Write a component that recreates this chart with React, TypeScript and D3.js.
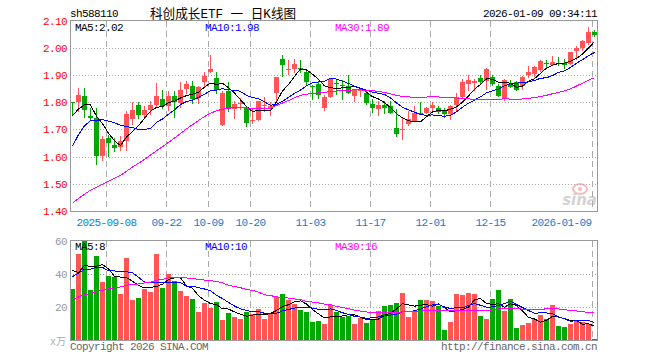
import React from 'react';
import * as d3 from 'd3';

// 日K数据（价格单位：元，成交量单位：万手）
const openPx = [1.801, 1.801, 1.821, 1.748, 1.740, 1.601, 1.667, 1.641, 1.634, 1.657, 1.737, 1.791, 1.752, 1.770, 1.791, 1.813, 1.785, 1.821, 1.798, 1.850, 1.861, 1.815, 1.873, 1.910, 1.887, 1.715, 1.840, 1.773, 1.792, 1.779, 1.731, 1.733, 1.785, 1.773, 1.834, 1.960, 1.918, 1.923, 1.925, 1.909, 1.861, 1.868, 1.778, 1.820, 1.870, 1.862, 1.861, 1.822, 1.840, 1.834, 1.795, 1.776, 1.788, 1.787, 1.704, 1.698, 1.718, 1.730, 1.759, 1.759, 1.778, 1.779, 1.767, 1.755, 1.789, 1.820, 1.868, 1.871, 1.889, 1.877, 1.893, 1.861, 1.816, 1.865, 1.873, 1.861, 1.898, 1.905, 1.917, 1.945, 1.935, 1.945, 1.944, 1.941, 1.987, 1.999, 2.017, 2.057];
const highPx = [1.802, 1.852, 1.851, 1.777, 1.777, 1.676, 1.679, 1.670, 1.676, 1.767, 1.800, 1.802, 1.785, 1.804, 1.872, 1.843, 1.840, 1.840, 1.873, 1.878, 1.877, 1.860, 1.911, 1.974, 1.911, 1.840, 1.874, 1.804, 1.816, 1.785, 1.776, 1.806, 1.820, 1.802, 1.893, 1.974, 1.956, 1.960, 1.956, 1.920, 1.862, 1.873, 1.828, 1.889, 1.885, 1.880, 1.901, 1.849, 1.852, 1.840, 1.813, 1.804, 1.804, 1.804, 1.773, 1.743, 1.767, 1.785, 1.802, 1.782, 1.800, 1.785, 1.779, 1.788, 1.834, 1.885, 1.901, 1.885, 1.901, 1.926, 1.901, 1.865, 1.885, 1.883, 1.877, 1.895, 1.932, 1.932, 1.956, 1.956, 1.971, 1.966, 1.959, 1.985, 2.005, 2.027, 2.076, 2.066];
const lowPx = [1.748, 1.763, 1.740, 1.731, 1.570, 1.584, 1.599, 1.615, 1.622, 1.621, 1.715, 1.737, 1.743, 1.754, 1.779, 1.773, 1.767, 1.741, 1.779, 1.829, 1.794, 1.795, 1.855, 1.907, 1.830, 1.712, 1.765, 1.737, 1.771, 1.709, 1.718, 1.730, 1.763, 1.749, 1.800, 1.893, 1.901, 1.907, 1.907, 1.859, 1.809, 1.810, 1.767, 1.816, 1.828, 1.807, 1.830, 1.800, 1.818, 1.789, 1.759, 1.749, 1.755, 1.755, 1.673, 1.661, 1.712, 1.727, 1.754, 1.756, 1.761, 1.755, 1.743, 1.734, 1.763, 1.816, 1.840, 1.840, 1.865, 1.844, 1.861, 1.820, 1.806, 1.852, 1.840, 1.846, 1.889, 1.893, 1.910, 1.922, 1.932, 1.932, 1.922, 1.938, 1.956, 1.987, 2.011, 2.041];
const closePx = [1.799, 1.828, 1.770, 1.742, 1.601, 1.665, 1.650, 1.632, 1.656, 1.755, 1.770, 1.752, 1.770, 1.788, 1.824, 1.785, 1.821, 1.800, 1.846, 1.868, 1.812, 1.855, 1.895, 1.920, 1.843, 1.832, 1.777, 1.795, 1.796, 1.723, 1.735, 1.804, 1.791, 1.785, 1.891, 1.935, 1.921, 1.941, 1.922, 1.873, 1.855, 1.828, 1.820, 1.886, 1.867, 1.860, 1.834, 1.843, 1.849, 1.798, 1.777, 1.791, 1.777, 1.759, 1.682, 1.702, 1.737, 1.761, 1.756, 1.777, 1.788, 1.765, 1.755, 1.785, 1.820, 1.873, 1.880, 1.879, 1.874, 1.922, 1.868, 1.822, 1.880, 1.855, 1.846, 1.893, 1.910, 1.928, 1.952, 1.943, 1.946, 1.942, 1.935, 1.983, 1.998, 2.023, 2.057, 2.048];
const volume = [30.8, 51.8, 60, 30.2, 50.6, 35.2, 38.6, 38, 27.8, 49.4, 24.2, 25.4, 31.2, 29.2, 51.8, 31.4, 39.8, 35.8, 29.8, 26.6, 24.8, 17, 22.8, 19.4, 23.4, 12.4, 16.4, 14, 13, 17, 16, 18.8, 13, 16, 26.2, 27.8, 24.4, 22.2, 18.2, 17, 11, 11.6, 9.8, 21.4, 17, 14, 15, 9.8, 13.8, 10.4, 12.8, 17.6, 20.6, 21.2, 22.4, 28.4, 14, 17, 24.2, 24.2, 23.6, 20.6, 6.2, 11, 27.8, 27.2, 28.4, 27.8, 14.6, 12.8, 24.8, 30.2, 17.6, 24.8, 7.4, 9.2, 10.4, 12.8, 15.2, 12.8, 21.2, 8.6, 8, 9.8, 11.6, 11, 9.8, 0.8];

// 图左侧之前的交易日（估计值，只用于均线）
const earlierClose = [1.30, 1.31, 1.29, 1.30, 1.32, 1.31, 1.33, 1.32, 1.30, 1.31, 1.33, 1.34, 1.32, 1.33, 1.35, 1.34, 1.33, 1.34, 1.36, 1.35, 1.40, 1.45, 1.55, 1.59, 1.64, 1.703, 1.695, 1.742, 1.811];
const earlierVolume = [13, 15, 12, 14, 16, 13, 15, 14, 17, 15, 13, 14, 16, 15, 14, 17, 28, 33, 30, 35.5, 32, 36, 30, 38, 38, 57.8, 39, 32.7, 49.7];

const tickLabels = ['2025-09-08', '09-22', '10-09', '10-20', '11-03', '11-17', '12-01', '12-15', '2026-01-09'];
const tickDays = [6, 16, 23, 30, 40, 50, 60, 70, 87];
const priceTicks = [1.4, 1.5, 1.6, 1.7, 1.8, 1.9, 2.0, 2.1];
const volTicks = [20, 40, 60];

const RED = '#ff5555';
const GREEN = '#00a800';
const GRID = '#aaaaaa';
const FRAME = '#999999';
const MONO = "'Liberation Mono', 'DejaVu Sans Mono', monospace";

const L = 70, R = 598;
const P_TOP = 20.5, P_BOT = 211;
const V_TOP = 240.5, V_BOT = 340.5;

function movingAvg(hist: number[], vals: number[], n: number) {
  const all = hist.concat(vals);
  return vals.map((_, i) => d3.mean(all.slice(hist.length + i - n + 1, hist.length + i + 1)) as number);
}

const App: React.FC = () => {
  const n = closePx.length;
  const x = d3.scaleBand<number>().domain(d3.range(n)).range([L, R]);
  const y = d3.scaleLinear().domain([1.4, 2.1]).range([P_BOT, P_TOP]);
  const yv = d3.scaleLinear().domain([0, 60]).range([V_BOT, V_TOP]);
  const cx = (i: number) => (x(i) as number) + 2.5;

  const ma = [5, 10, 30].map(k => movingAvg(earlierClose, closePx, k));
  const vma = [5, 10, 30].map(k => movingAvg(earlierVolume, volume, k));
  const maColors = ['#000000', '#0000ff', '#ff00ff'];
  const maX = [75, 205, 335];

  const line = (ys: (v: number) => number) =>
    d3.line<number>().x((_, i) => cx(i)).y(v => ys(v));

  const isUp = (i: number) => closePx[i] >= openPx[i];
  const txt = { fontFamily: MONO, fontSize: 11, letterSpacing: -0.6 } as React.CSSProperties;

  return (
    <svg width={660} height={360} viewBox="0 0 660 360"
      style={{ position: 'absolute', left: 0, top: 0, background: '#fff' }}>
      {/* 标题 */}
      <text x={70} y={17} style={txt} fill="#000">sh588110</text>
      <text x={150} y={18} fontFamily={MONO + ", 'Noto Sans CJK SC'"} fontSize={12.6} fill="#000">科创成长ETF 一 日K线图</text>
      <text x={597} y={17} style={txt} fill="#000" textAnchor="end">2026-01-09 09:34:11</text>

      <g shapeRendering="crispEdges">
        {/* 价格区网格 */}
        {priceTicks.slice(1, -1).map(t => (
          <line key={t} x1={L} x2={R} y1={Math.round(y(t)) + 0.5} y2={Math.round(y(t)) + 0.5}
            stroke={GRID} strokeDasharray="1,2" />
        ))}
        {tickDays.map(d => (
          <line key={'p' + d} x1={(x(d) as number) + 0.5} x2={(x(d) as number) + 0.5} y1={P_TOP} y2={P_BOT}
            stroke={GRID} strokeDasharray="6,4" />
        ))}
        {/* 成交量区网格 */}
        {volTicks.slice(0, -1).map(t => (
          <line key={t} x1={L} x2={R} y1={Math.round(yv(t)) + 0.5} y2={Math.round(yv(t)) + 0.5}
            stroke={GRID} strokeDasharray="1,2" />
        ))}
        {tickDays.map(d => (
          <line key={'v' + d} x1={(x(d) as number) + 0.5} x2={(x(d) as number) + 0.5} y1={V_TOP} y2={V_BOT}
            stroke={GRID} strokeDasharray="6,4" />
        ))}

        {/* K线 */}
        {closePx.map((c, i) => {
          const o = openPx[i];
          const col = isUp(i) ? RED : GREEN;
          const top = Math.round(y(Math.max(o, c)));
          const bot = Math.round(y(Math.min(o, c)));
          return (
            <g key={i}>
              <line x1={cx(i)} x2={cx(i)} y1={Math.round(y(highPx[i]))} y2={Math.round(y(lowPx[i]))} stroke={col} />
              <rect x={x(i) as number} y={top} width={5} height={Math.max(1, bot - top)} fill={col} />
            </g>
          );
        })}

        {/* 成交量柱 */}
        {volume.map((v, i) => {
          const top = Math.round(yv(Math.min(v, 60)));
          return <rect key={i} x={x(i) as number} y={top} width={5} height={Math.max(1, Math.round(V_BOT) - top)}
            fill={isUp(i) ? RED : GREEN} />;
        })}

        {/* 均线 */}
        {ma.map((m, k) => (
          <path key={'ma' + k} d={line(y)(m) as string} fill="none" stroke={maColors[k]} strokeWidth={1} />
        ))}
        {vma.map((m, k) => (
          <path key={'vma' + k} d={line(yv)(m) as string} fill="none" stroke={maColors[k]} strokeWidth={1} />
        ))}

        {/* 边框 */}
        <rect x={L + 0.5} y={P_TOP} width={R - L - 1} height={P_BOT - P_TOP + 0.5} fill="none" stroke={FRAME} />
        <rect x={L + 0.5} y={V_TOP} width={R - L - 1} height={V_BOT - V_TOP} fill="none" stroke={FRAME} />
      </g>

      {/* 新浪水印 */}
      <g opacity={0.55}>
        <ellipse cx={580} cy={189} rx={7} ry={5} fill="none" stroke="#f08080" strokeWidth={2} />
        <circle cx={580} cy={189} r={2} fill="#f08080" />
        <text x={597} y={205} textAnchor="end" fontFamily="'DejaVu Sans', sans-serif" fontStyle="italic"
          fontWeight="bold" fontSize={15} fill="#b0b0b0">sina</text>
      </g>

      {/* 价格坐标 */}
      {priceTicks.map(t => (
        <text key={t} x={67} y={y(t) + 4} style={txt} fill="#ff0000" textAnchor="end">{t.toFixed(2)}</text>
      ))}
      {/* 日期坐标 */}
      {tickDays.map((d, k) => {
        const gx = (x(d) as number) + 0.5;
        const w = tickLabels[k].length * 6;
        const anchorEnd = gx + w / 2 > R;
        return (
          <text key={d} x={anchorEnd ? gx - 1 : gx} y={225.5} style={txt} fill="#0a80d0"
            textAnchor={anchorEnd ? 'end' : 'middle'}>{tickLabels[k]}</text>
        );
      })}
      {/* 成交量坐标 */}
      {volTicks.map(t => (
        <text key={t} x={67} y={yv(t) + 4} style={txt} fill="#999999" textAnchor="end">{t}</text>
      ))}
      <text x={66} y={344.5} fontFamily={MONO + ", 'Noto Sans CJK SC'"} fontSize={10} fill="#aaaaaa" textAnchor="end">x万</text>

      {/* 均线数值 */}
      {ma.map((m, k) => (
        <text key={k} x={maX[k]} y={30.5} style={txt} fill={maColors[k]}>
          {`MA${[5, 10, 30][k]}:${m[n - 1].toFixed(2)}`}
        </text>
      ))}
      {vma.map((m, k) => (
        <text key={k} x={maX[k]} y={249.5} style={txt} fill={maColors[k]}>
          {`MA${[5, 10, 30][k]}:${Math.floor(m[n - 1])}`}
        </text>
      ))}

      <text x={70} y={349.5} style={txt} fill="#666666">Copyright 2026 SINA.COM</text>
      <text x={597} y={349.5} style={txt} fill="#666666" textAnchor="end">http://finance.sina.com.cn</text>
    </svg>
  );
};

export default App;
